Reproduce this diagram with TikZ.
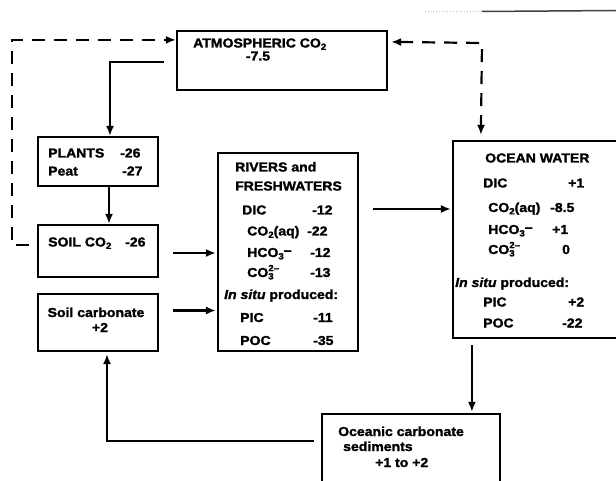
\documentclass[tikz,border=0pt]{standalone}
\usepackage{fontspec}
\setmainfont{Liberation Sans}[FakeStretch=1.08,BoldFeatures={FakeBold=1.6},BoldItalicFeatures={FakeBold=1.6}]
\usetikzlibrary{arrows.meta,calc}
\newcommand\mysub[1]{\raisebox{-0.35ex}{\fontsize{9}{9}\selectfont #1}}
\newcommand\mysup[1]{\raisebox{0.85ex}{\fontsize{9}{9}\selectfont #1}}
\newcommand\mysubsup[2]{\rlap{\mysub{#1}}\mysup{#2}}
\begin{document}
\begin{tikzpicture}[x=1pt,y=-1pt,
  box/.style={draw,line width=2.2pt,inner sep=0pt,rectangle},
  txt/.style={anchor=base west,inner sep=0pt,font=\fontsize{13}{15}\selectfont\bfseries},
  ctxt/.style={txt,anchor=base},
  tip/.tip={Latex[length=10pt,width=8pt]},
  conn/.style={line width=2.2pt,-tip},
  dconn/.style={line width=2.2pt,dash pattern=on 13pt off 9pt}]
\useasboundingbox (0,0) rectangle (616,481);
\clip (0,0) rectangle (616,481);

% boxes
\node[box,minimum width=210pt,minimum height=59pt] (atm) at (282,60.5) {};
\node[box,minimum width=120pt,minimum height=49pt] (plants) at (98,161.5) {};
\node[box,minimum width=120pt,minimum height=52pt] (soil) at (98,251) {};
\node[box,minimum width=120pt,minimum height=57pt] (soilc) at (98,322.5) {};
\node[box,minimum width=140pt,minimum height=198pt] (rivers) at (288,252) {};
\node[box,minimum width=197pt,minimum height=197pt] (ocean) at (551.5,239.5) {};
\node[box,minimum width=178pt,minimum height=86pt] (sed) at (411,457) {};

% scan line at top right
\draw[gray!50,line width=0.8pt,dotted] (425,11) -- (482,11);
\draw[black!75,line width=1.5pt] (482,11.5) -- (616,10.5);

% dashed connectors
\coordinate (dsoil) at (29,245);
\coordinate (cornerL) at (12,245);
\draw[dconn,-tip] (dsoil) -- (cornerL) |- ($(atm.north west)+(0,10)$);
\coordinate (cornerR) at (482,43);
\draw[dconn,tip-tip] ($(atm.north east)+(3,12)$) -- (cornerR) -- ($(ocean.north west)+(29,-5)$);

% solid connectors
\draw[conn] ($(atm.west)+(-12,1.5)$) -| ($(plants.north)+(12,0)$);
\draw[conn] ($(plants.south)+(11,0)$) -- ($(soil.north)+(11,0)$);
\draw[conn] ($(soil.east)+(14,2)$) -- ($(soil.east -| rivers.west)+(-1,2)$);
\draw[conn] ($(soilc.east)+(14,-12)$) -- ($(soilc.east -| rivers.west)+(-1,-12)$);
\draw[conn] ($(rivers.east)+(14,-43)$) -- ($(rivers.east -| ocean.west)+(-1,-43)$);
\draw[conn] ($(ocean.south west)+(20,6)$) -- ($(sed.north west)+(151,-1)$);
\draw[conn] ($(sed.west)+(-7,-16)$) -| ($(soilc.south)+(9,2)$);

% texts
\node[txt] (atmT) at (193,47.5) {ATMOSPHERIC CO\mysub{2}};
\node[ctxt] (atmV) at (258,60.5) {-7.5};

\node[txt] (plT) at (48,157.5) {PLANTS};
\node[txt] (plV) at (120,157.5) {-26};
\node[txt] (peT) at (48,175.5) {Peat};
\node[txt] (peV) at (122,175.5) {-27};
\node[txt] (soT) at (48,246.5) {SOIL CO\mysub{2}};
\node[txt] (soV) at (125,246.5) {-26};
\node[ctxt] (scT) at (96,317) {Soil carbonate};
\node[ctxt] (scV) at (100,332) {+2};

\node[txt] (rvA) at (235,171.5) {RIVERS and};
\node[txt] (rvB) at (235,190.5) {FRESHWATERS};
\node[txt] (rvC) at (242,214.5) {DIC};
\node[txt] (rvCv) at (312,214.5) {-12};
\node[txt] (rvD) at (247,235.5) {CO\mysub{2}(aq)};
\node[txt] (rvDv) at (307,235.5) {-22};
\node[txt] (rvE) at (247,257) {HCO\mysub{3}\raisebox{0.35ex}{–}};
\node[txt] (rvEv) at (310,257) {-12};
\node[txt] (rvF) at (247,277) {CO\mysubsup{3}{2–}};
\node[txt] (rvFv) at (310,277) {-13};
\node[txt] (rvG) at (224,299) {{\itshape In situ} produced:};
\node[txt] (rvH) at (240,322) {PIC};
\node[txt] (rvHv) at (313,322) {-11};
\node[txt] (rvI) at (240,345) {POC};
\node[txt] (rvIv) at (313,345) {-35};

\node[txt] (ocA) at (485,162.5) {OCEAN WATER};
\node[txt] (ocB) at (483,187.5) {DIC};
\node[txt] (ocBv) at (568,187.5) {+1};
\node[txt] (ocC) at (488,212) {CO\mysub{2}(aq)};
\node[txt] (ocCv) at (550,212) {-8.5};
\node[txt] (ocD) at (488,234) {HCO\mysub{3}\raisebox{0.35ex}{–}};
\node[txt] (ocDv) at (552,234) {+1};
\node[txt] (ocE) at (488,254) {CO\mysubsup{3}{2–}};
\node[txt] (ocEv) at (562,254) {0};
\node[txt] (ocF) at (455,287) {{\itshape In situ} produced:};
\node[txt] (ocG) at (483,306.5) {PIC};
\node[txt] (ocGv) at (568,306.5) {+2};
\node[txt] (ocH) at (483,327.5) {POC};
\node[txt] (ocHv) at (562,327.5) {-22};

\node[txt] (sdA) at (338,436) {Oceanic carbonate};
\node[txt] (sdB) at (343,451) {sediments};
\node[txt] (sdC) at (375,467) {+1 to +2};
\end{tikzpicture}
\end{document}
